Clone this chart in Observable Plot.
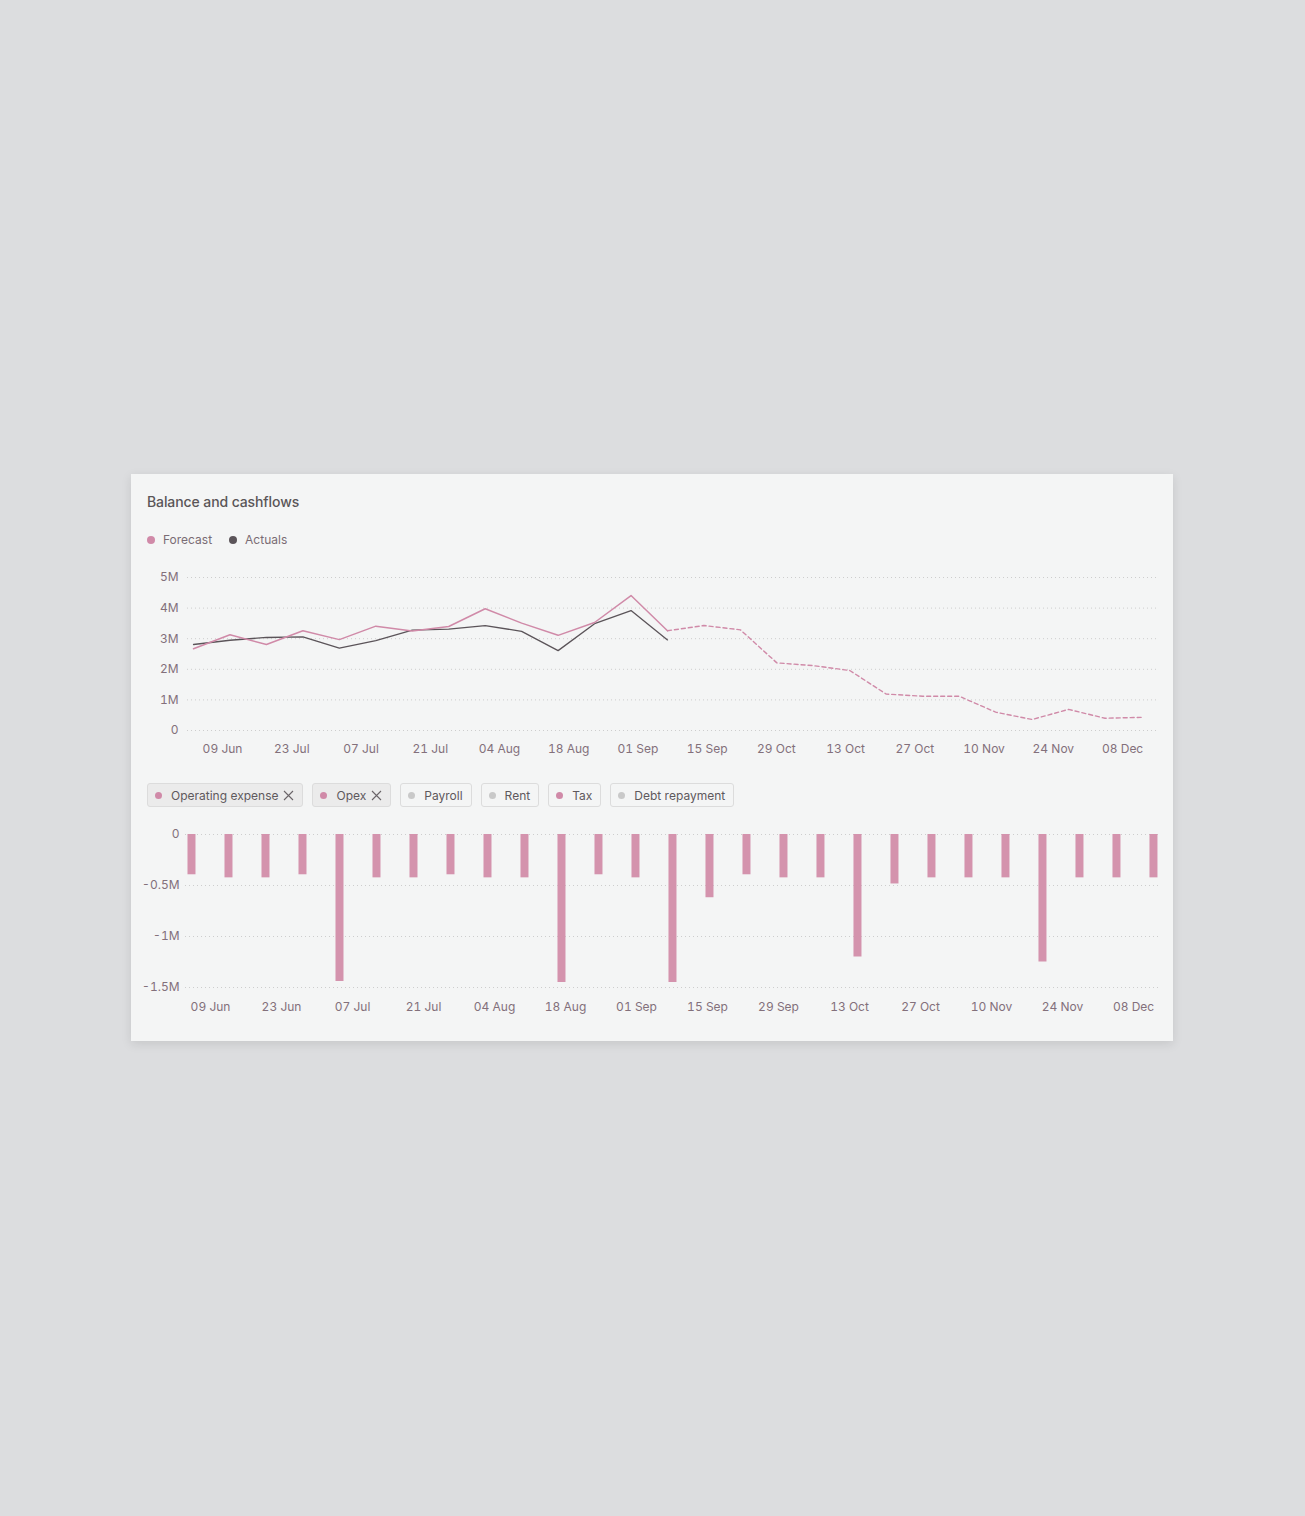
<!DOCTYPE html>
<html>
<head>
<meta charset="utf-8">
<script src="https://cdn.jsdelivr.net/npm/d3@7"></script>
<script src="https://cdn.jsdelivr.net/npm/@observablehq/plot@0.6"></script>
<style>
  html, body { margin: 0; padding: 0; }
  body { width: 1305px; height: 1516px; background: #dcdddf; font-family: Inter, "Noto Sans", sans-serif; position: relative; overflow: hidden; }
  #card { position: absolute; left: 131px; top: 474px; width: 1042px; height: 567px; background: #f4f5f5; box-shadow: 0 3px 10px rgba(0,0,0,0.10); }
  #title { position: absolute; left: 16px; top: 19px; font-size: 14px; font-weight: 500; color: #5a5558; letter-spacing: -0.1px; }
  #legend { position: absolute; left: 16px; top: 58px; display: flex; align-items: center; font-size: 12px; color: #7a6c74; }
  .li { display: flex; align-items: center; margin-right: 17px; }
  .dot { width: 8px; height: 8px; border-radius: 50%; margin-right: 8px; }
  #topChart { position: absolute; left: 0; top: 91px; }
  #chips { position: absolute; left: 16px; top: 309px; display: flex; gap: 9px; }
  .chip { height: 22px; border: 1px solid #dcdcdc; border-radius: 3px; display: flex; align-items: center; padding: 0 8px 0 7px; font-size: 12px; color: #5f595d; background: #f4f5f5; }
  .chip.sel { background: #ebebeb; }
  .chip .cd { width: 7px; height: 7px; border-radius: 50%; margin-right: 9px; }
  .chip svg { margin-left: 5px; }
  #bottomChart { position: absolute; left: 0; top: 348px; }
  svg text { font-family: Inter, "Noto Sans", sans-serif; }
</style>
</head>
<body>
<div id="card">
  <div id="title">Balance and cashflows</div>
  <div id="legend"></div>
  <div id="topChart"></div>
  <div id="chips"></div>
  <div id="bottomChart"></div>
</div>
<script>
// ---- Data ----
const seriesNames = ["Forecast", "Actuals"];
const seriesColors = ["#d08aa8", "#5b5459"];

// weekly balance (millions), 27 weeks
const forecastBalance = [2.67, 3.13, 2.81, 3.26, 2.97, 3.41, 3.25, 3.40, 3.98, 3.51, 3.11, 3.53, 4.41, 3.26,
                         3.43, 3.29, 2.21, 2.12, 1.96, 1.19, 1.12, 1.12, 0.60, 0.36, 0.69, 0.40, 0.43];
const actualBalance = [2.81, 2.95, 3.04, 3.06, 2.69, 2.94, 3.28, 3.31, 3.43, 3.24, 2.61, 3.49, 3.92, 2.96];
const lastActualWeek = 13;

// weekly cashflows (millions)
const cashflows = [-0.395, -0.425, -0.425, -0.395, -1.44, -0.425, -0.425, -0.395, -0.425, -0.425, -1.45, -0.395, -0.425, -1.45,
                   -0.62, -0.395, -0.425, -0.425, -1.20, -0.485, -0.425, -0.425, -0.425, -1.25, -0.425, -0.425, -0.425];

const topTickLabels = ["09 Jun", "23 Jul", "07 Jul", "21 Jul", "04 Aug", "18 Aug", "01 Sep", "15 Sep", "29 Oct", "13 Oct", "27 Oct", "10 Nov", "24 Nov", "08 Dec"];
const bottomTickLabels = ["09 Jun", "23 Jun", "07 Jul", "21 Jul", "04 Aug", "18 Aug", "01 Sep", "15 Sep", "29 Sep", "13 Oct", "27 Oct", "10 Nov", "24 Nov", "08 Dec"];
const topYTicks = [0, 1e6, 2e6, 3e6, 4e6, 5e6];
const bottomYTicks = [0, -0.5e6, -1e6, -1.5e6];

const chipNames = ["Operating expense", "Opex", "Payroll", "Rent", "Tax", "Debt repayment"];
const chipActive = [true, true, false, false, true, false];
const chipRemovable = [true, true, false, false, false, false];

// ---- Legend / chips ----
const legendEl = document.getElementById("legend");
seriesNames.forEach((n, i) => {
  const el = document.createElement("div");
  el.className = "li";
  el.innerHTML = `<span class="dot" style="background:${seriesColors[i]}"></span>${n}`;
  legendEl.appendChild(el);
});
const chipsEl = document.getElementById("chips");
chipNames.forEach((n, i) => {
  const el = document.createElement("div");
  el.className = "chip" + (chipRemovable[i] ? " sel" : "");
  el.innerHTML = `<span class="cd" style="background:${chipActive[i] ? "#d08aa8" : "#c9c9c9"}"></span>${n}` +
    (chipRemovable[i] ? `<svg width="11" height="11" viewBox="0 0 11 11"><path d="M1 1L10 10M10 1L1 10" stroke="#6a6468" stroke-width="1.1"/></svg>` : "");
  chipsEl.appendChild(el);
});

// ---- Tables ----
const fmtM = d => d === 0 ? "0" : (d / 1e6) + "M";
const forecastRows = forecastBalance.map((v, i) => ({week: i, value: v * 1e6}));
const forecastSolid = forecastRows.filter(d => d.week <= lastActualWeek);
const forecastDashed = forecastRows.filter(d => d.week >= lastActualWeek);
const actualRows = actualBalance.map((v, i) => ({week: i, value: v * 1e6}));
const flowRows = cashflows.map((v, i) => ({week: i, value: v * 1e6}));

// axis label placement (in week units) — labels are spread evenly across the plot
const topTickPos = topTickLabels.map((_, k) => 0.795 + 1.899 * k);
const topTickMap = new Map(topTickPos.map((p, k) => [p, topTickLabels[k]]));
const botTickPos = bottomTickLabels.map((_, k) => 0.514 + 1.919 * k);
const botTickMap = new Map(botTickPos.map((p, k) => [p, bottomTickLabels[k]]));

const axisColor = "#83707b";
const gridStyle = {stroke: "#cdcdcd", strokeDasharray: "1,3", strokeOpacity: 1, strokeWidth: 1};

const topPlot = Plot.plot({
  width: 1042, height: 200,
  marginLeft: 56, marginRight: 16, marginTop: 12, marginBottom: 35,
  style: {background: "transparent", fontSize: "12px", color: axisColor, fontFamily: "Inter"},
  x: {type: "linear", domain: [-0.165, 26.44], axis: null},
  y: {domain: [0, 5e6], axis: null},
  marks: [
    Plot.gridY(topYTicks, gridStyle),
    Plot.axisY(topYTicks, {tickSize: 0, tickPadding: 9, tickFormat: fmtM, label: null}),
    Plot.axisX(topTickPos, {tickSize: 0, tickPadding: 14, tickFormat: d => topTickMap.get(d), label: null}),
    Plot.line(forecastDashed, {x: "week", y: "value", stroke: seriesColors[0], strokeWidth: 1.4, strokeDasharray: "4,3"}),
    Plot.line(actualRows, {x: "week", y: "value", stroke: seriesColors[1], strokeWidth: 1.3}),
    Plot.line(forecastSolid, {x: "week", y: "value", stroke: seriesColors[0], strokeWidth: 1.5})
  ]
});
document.getElementById("topChart").appendChild(topPlot);

const bottomPlot = Plot.plot({
  width: 1042, height: 200,
  marginLeft: 54, marginRight: 13, marginTop: 12, marginBottom: 35,
  style: {background: "transparent", fontSize: "12px", color: axisColor, fontFamily: "Inter"},
  x: {type: "linear", domain: [-0.162, 26.19], axis: null},
  y: {domain: [-1.5e6, 0], axis: null},
  marks: [
    Plot.gridY(bottomYTicks, gridStyle),
    Plot.axisY(bottomYTicks, {tickSize: 0, tickPadding: 6, tickFormat: fmtM, label: null}),
    Plot.axisX(botTickPos, {tickSize: 0, tickPadding: 15, tickFormat: d => botTickMap.get(d), label: null}),
    Plot.ruleX(flowRows, {x: "week", y1: 0, y2: "value", stroke: "#d493ad", strokeWidth: 8})
  ]
});
document.getElementById("bottomChart").appendChild(bottomPlot);
</script>
</body>
</html>
